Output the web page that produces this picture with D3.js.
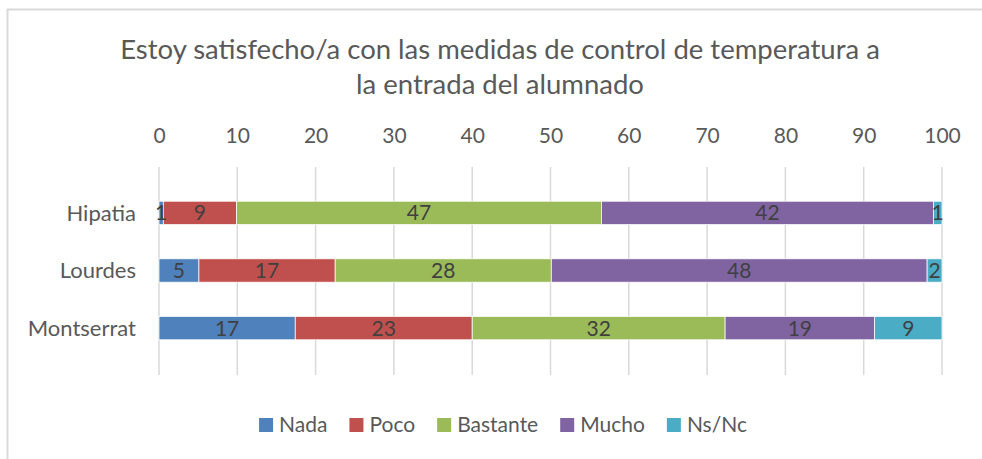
<!DOCTYPE html>
<html>
<head>
<meta charset="utf-8">
<script src="https://cdn.jsdelivr.net/npm/d3@7"></script>
<style>
  html, body { margin: 0; padding: 0; background: #ffffff; }
  svg { display: block; font-family: Lato, "Open Sans", sans-serif; }
</style>
</head>
<body>
<svg id="chart" width="982" height="459"></svg>
<script>
const titleLines = ["Estoy satisfecho/a con las medidas de control de temperatura a", "la entrada del alumnado"];
const categories = ["Hipatia", "Lourdes", "Montserrat"];
const seriesNames = ["Nada", "Poco", "Bastante", "Mucho", "Ns/Nc"];
const seriesColors = ["#4F81BD", "#C0504D", "#9BBB59", "#8064A2", "#4BACC6"];
const nada = [0.55, 5.1, 17.4];
const poco = [9.35, 17.4, 22.6];
const bastante = [46.6, 27.6, 32.3];
const mucho = [42.4, 48.0, 19.1];
const nsnc = [1.1, 1.9, 8.6];
const xTicks = [0, 10, 20, 30, 40, 50, 60, 70, 80, 90, 100];

const seriesValues = [nada, poco, bastante, mucho, nsnc];
const rows = categories.map((c, i) => {
  const r = { cat: c };
  seriesNames.forEach((s, j) => r[s] = seriesValues[j][i]);
  return r;
});

const svg = d3.select("#chart");

// chart frame
svg.append("rect").attr("x", 7.5).attr("y", 9.5).attr("width", 990).attr("height", 470)
  .attr("fill", "#fff").attr("stroke", "#d9d9d9").attr("stroke-width", 2);

// title
const title = svg.append("text").attr("text-anchor", "middle").attr("fill", "#595959")
  .style("font-size", "27.5px");
titleLines.forEach((t, i) => {
  title.append("tspan").attr("x", 500).attr("y", 59 + i * 35).text(t);
});

const plot = { left: 159, right: 942, top: 167, bottom: 374 };
const x = d3.scaleLinear().domain([0, 100]).range([plot.left, plot.right]);
const y = d3.scaleBand().domain(categories).range([plot.top, plot.bottom]).padding(1 - 28 / 69);

// gridlines
svg.append("g").selectAll("line").data(xTicks).join("line")
  .attr("x1", d => x(d)).attr("x2", d => x(d))
  .attr("y1", plot.top).attr("y2", plot.bottom + 1)
  .attr("stroke", "#d9d9d9").attr("stroke-width", 1.5);

// top axis labels
const xAxis = d3.axisTop(x).tickValues(xTicks).tickSize(0).tickPadding(0);
const gx = svg.append("g").attr("transform", `translate(0, 143)`).call(xAxis);
gx.select(".domain").remove();
gx.selectAll("text").attr("fill", "#595959").style("font-size", "21px")
  .style("font-family", "Lato, sans-serif").attr("dy", 0);

// category axis
const yAxis = d3.axisLeft(y).tickSize(0).tickPadding(0);
const gy = svg.append("g").attr("transform", `translate(136, 0)`).call(yAxis);
gy.select(".domain").remove();
gy.selectAll("text").attr("fill", "#595959").style("font-size", "22px")
  .style("font-family", "Lato, sans-serif").attr("dy", "0.35em");

// stacked bars
const stack = d3.stack().keys(seriesNames)(rows);
const color = d3.scaleOrdinal().domain(seriesNames).range(seriesColors);

const layers = svg.append("g").selectAll("g").data(stack).join("g")
  .attr("fill", d => color(d.key));
layers.selectAll("rect").data(d => d).join("rect")
  .attr("x", d => x(d[0]))
  .attr("y", d => y(d.data.cat))
  .attr("width", d => x(d[1]) - x(d[0]))
  .attr("height", y.bandwidth())
  .attr("stroke", "#ffffff").attr("stroke-width", 0.75);

// data labels
const labels = svg.append("g");
stack.forEach(layer => {
  layer.forEach(d => {
    labels.append("text")
      .attr("x", (x(d[0]) + x(d[1])) / 2)
      .attr("y", y(d.data.cat) + y.bandwidth() / 2)
      .attr("dy", "0.36em")
      .attr("text-anchor", "middle")
      .attr("fill", "#404040")
      .style("font-size", "21px")
      .text(d3.format(".0f")(d[1] - d[0]));
  });
});

// legend
const legend = svg.append("g");
const items = legend.selectAll("g").data(seriesNames).join("g");
items.append("rect").attr("width", 14).attr("height", 14).attr("y", -14)
  .attr("fill", d => color(d));
items.append("text").attr("x", 20).attr("y", 0).attr("fill", "#595959")
  .style("font-size", "21px").text(d => d);
let widths = [];
items.each(function () {
  widths.push(20 + d3.select(this).select("text").node().getComputedTextLength());
});
const gap = 22;
const total = d3.sum(widths) + gap * (widths.length - 1);
let cx = 503 - total / 2;
items.each(function (d, i) {
  d3.select(this).attr("transform", `translate(${cx}, 432)`);
  cx += widths[i] + gap;
});
</script>
</body>
</html>
